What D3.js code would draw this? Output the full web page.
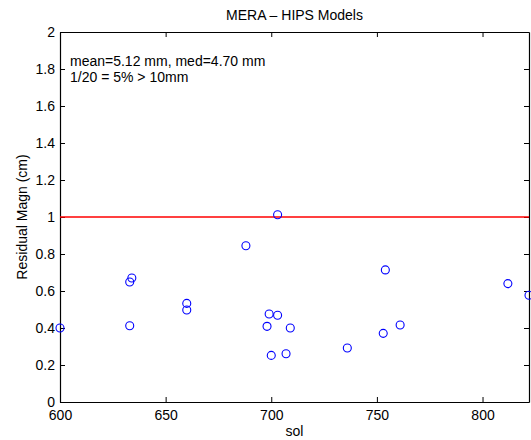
<!DOCTYPE html>
<html>
<head>
<meta charset="utf-8">
<script src="https://cdn.jsdelivr.net/npm/d3@7"></script>
<style>
  body { margin: 0; background: #fff; }
  svg text { font-family: "Liberation Sans", Arial, Helvetica, sans-serif; }
</style>
</head>
<body>
<script>
// residual magnitude per sol (cm)
var sols   = [600, 633, 634, 633, 660, 660, 703, 688, 699, 703, 698, 709, 700, 707, 754, 761, 753, 736, 812, 822];
var resid  = [0.40, 0.649, 0.670, 0.412, 0.533, 0.497, 1.012, 0.845, 0.476, 0.469, 0.409, 0.40, 0.252, 0.261, 0.714, 0.416, 0.371, 0.292, 0.64, 0.577];
var xTicks = [600, 650, 700, 750, 800];
var yTicks = [0, 0.2, 0.4, 0.6, 0.8, 1, 1.2, 1.4, 1.6, 1.8, 2];
var threshold = 1;
var notes = ["mean=5.12 mm, med=4.70 mm", "1/20 = 5% > 10mm"];

var svgWidth = 531, svgHeight = 440;
var margin = {top: 32, right: 2, bottom: 38, left: 60};
var chartWidth = svgWidth - margin.left - margin.right;
var chartHeight = svgHeight - margin.top - margin.bottom;

var data = sols.map(function(s, i) { return {sol: s, r: resid[i]}; });

var svg = d3.select("body").append("svg")
  .attr("width", svgWidth)
  .attr("height", svgHeight);

var chartGroup = svg.append("g")
  .attr("transform", `translate(${margin.left}, ${margin.top})`);

var xScale = d3.scaleLinear().domain([600, 822]).range([0, chartWidth]);
var yScale = d3.scaleLinear().domain([0, 2]).range([chartHeight, 0]);

var fmt = d3.format("~g");

// axes, ticks pointing inward like matlab
chartGroup.append("g")
  .attr("transform", `translate(0, ${chartHeight})`)
  .call(d3.axisBottom(xScale).tickValues(xTicks).tickSizeInner(-5).tickSizeOuter(0).tickPadding(8).tickFormat(fmt));
chartGroup.append("g")
  .call(d3.axisTop(xScale).tickValues(xTicks).tickSizeInner(-5).tickSizeOuter(0).tickFormat(""));
chartGroup.append("g")
  .call(d3.axisLeft(yScale).tickValues(yTicks).tickSizeInner(-5).tickSizeOuter(0).tickPadding(5).tickFormat(fmt));
chartGroup.append("g")
  .attr("transform", `translate(${chartWidth}, 0)`)
  .call(d3.axisRight(yScale).tickValues(yTicks).tickSizeInner(-5).tickSizeOuter(0).tickFormat(""));

chartGroup.selectAll(".domain").attr("stroke", "#000").attr("stroke-width", 1.2);
chartGroup.selectAll(".tick line").attr("stroke", "#000");
chartGroup.selectAll(".tick text")
  .attr("font-size", "14px")
  .attr("font-family", "Liberation Sans, Arial, sans-serif")
  .attr("fill", "#000");

// 10 mm threshold
chartGroup.append("line")
  .attr("class", "thresh")
  .attr("x1", 0).attr("x2", chartWidth)
  .attr("y1", yScale(threshold)).attr("y2", yScale(threshold))
  .style("stroke", "#ff0000")
  .style("stroke-width", "1.6px");

chartGroup.selectAll(".pt")
  .data(data)
  .enter()
  .append("circle")
  .attr("class", "pt")
  .attr("cx", d => xScale(d.sol))
  .attr("cy", d => yScale(d.r))
  .attr("r", 4)
  .attr("fill", "none")
  .attr("stroke", "#0000ff")
  .attr("stroke-width", 1.1);

notes.forEach(function(t, i) {
  chartGroup.append("text")
    .attr("x", 10)
    .attr("y", 34 + i * 16)
    .attr("font-size", "14px")
    .text(t);
});

svg.append("text")
  .attr("x", margin.left + chartWidth / 2)
  .attr("y", 20)
  .attr("text-anchor", "middle")
  .attr("font-size", "14px")
  .text("MERA \u2013 HIPS Models");

svg.append("text")
  .attr("x", margin.left + chartWidth / 2)
  .attr("y", 436)
  .attr("text-anchor", "middle")
  .attr("font-size", "14px")
  .text("sol");

svg.append("text")
  .attr("transform", `translate(27, ${margin.top + chartHeight / 2}) rotate(-90)`)
  .attr("text-anchor", "middle")
  .attr("font-size", "14px")
  .text("Residual Magn (cm)");
</script>
</body>
</html>
